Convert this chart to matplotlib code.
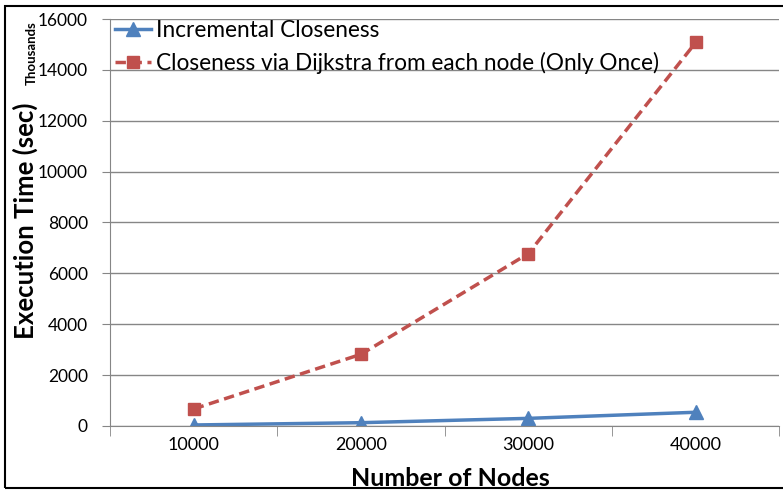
import matplotlib
matplotlib.use('Agg')
import matplotlib.pyplot as plt
from matplotlib.patches import Rectangle

plt.rcParams['font.family'] = ['Lato', 'DejaVu Sans']

nodes = ['10000', '20000', '30000', '40000']
incremental = [40, 130, 300, 540]        # thousands of sec
dijkstra_once = [670, 2820, 6780, 15080]  # thousands of sec
y_ticks = [0, 2000, 4000, 6000, 8000, 10000, 12000, 14000, 16000]

fig = plt.figure(figsize=(7.83, 4.91), dpi=100)
ax = fig.add_axes([0.1405, 0.1324, 0.855, 0.8289])

x = [i + 0.5 for i in range(len(nodes))]
ax.plot(x, incremental, color='#4F81BD', lw=2.5, marker='^', ms=10,
        label='Incremental Closeness')
ax.plot(x, dijkstra_once, color='#C0504D', lw=2.5, ls=(0, (3, 1.6)), marker='s', ms=8,
        label='Closeness via Dijkstra from each node (Only Once)')

ax.set_xlim(0, 4)
ax.set_ylim(0, 16000)
ax.set_yticks(y_ticks)
ax.set_xticks(x)
ax.set_xticklabels(nodes)
ax.set_xticks([0, 1, 2, 3, 4], minor=True)
ax.tick_params(axis='x', which='major', length=0, pad=8, labelsize=13)
ax.tick_params(axis='x', which='minor', length=7, color='#868686', direction='out')
ax.tick_params(axis='y', length=6, color='#868686', labelsize=12.5, pad=10)
ax.grid(axis='y', color='#868686', lw=1)
ax.set_axisbelow(True)
for s in ['top', 'right']:
    ax.spines[s].set_visible(False)
for s in ['left', 'bottom']:
    ax.spines[s].set_color('#868686')

fig.text(0.5755, 1 - 478 / 491, 'Number of Nodes', fontsize=18, fontweight='bold',
         ha='center', va='center')
fig.text(25 / 783, 1 - 221 / 491, 'Execution Time (sec)', rotation=90, fontsize=18.5,
         fontweight='bold', ha='center', va='center')
fig.text(32 / 783, 1 - 53 / 491, 'Thousands', rotation=90, fontsize=9.5,
         fontweight='bold', ha='center', va='center')

ax.legend(loc='upper left', frameon=False, fontsize=16.3, handlelength=1.6,
          handletextpad=0.2, borderaxespad=0.0, labelspacing=0.5,
          bbox_to_anchor=(-0.006, 1.02))

fig.patches.append(Rectangle((0.007, 0.006), 1.5, 0.982, transform=fig.transFigure,
                             fill=False, edgecolor='black', lw=1.5))

fig.savefig('out.png', dpi=100)
